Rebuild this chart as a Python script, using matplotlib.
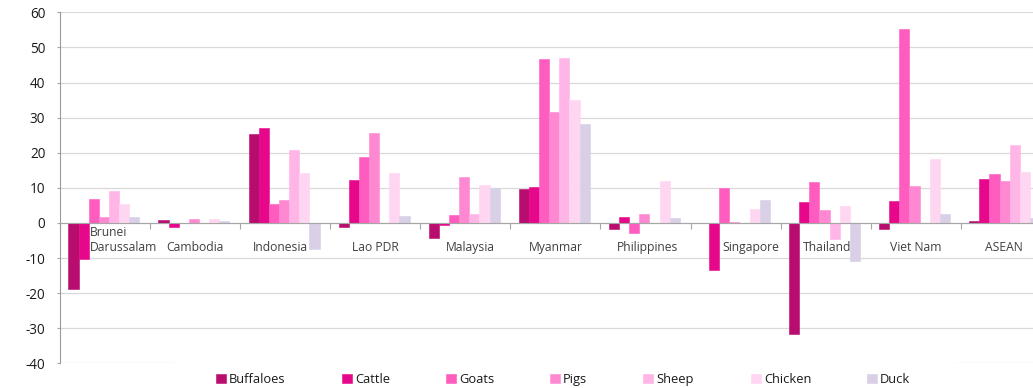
import matplotlib
matplotlib.use('Agg')
import matplotlib.pyplot as plt
import numpy as np
from matplotlib.patches import Rectangle

# ---- data ----
countries = ['Brunei\nDarussalam', 'Cambodia', 'Indonesia', 'Lao PDR', 'Malaysia',
             'Myanmar', 'Philippines', 'Singapore', 'Thailand', 'Viet Nam', 'ASEAN']
series_names = ['Buffaloes', 'Cattle', 'Goats', 'Pigs', 'Sheep', 'Chicken', 'Duck']
buffaloes = [-18.8, 0.9, 25.2, -1.2, -4.2, 9.7, -1.8, 0.0, -31.6, -1.8, 0.5]
cattle    = [-10.4, -1.1, 26.9, 12.1, -0.6, 10.2, 1.8, -13.5, 5.9, 6.2, 12.6]
goats     = [6.9, 0.0, 5.5, 18.7, 2.3, 46.8, -2.8, 9.9, 11.6, 55.1, 13.8]
pigs      = [1.6, 1.0, 6.4, 25.6, 13.0, 31.7, 2.6, 0.3, 3.8, 10.5, 11.9]
sheep     = [9.1, 0.0, 20.9, 0.0, 2.4, 47.1, 0.0, 0.0, -4.5, 0.0, 22.1]
chicken   = [5.3, 1.2, 14.3, 14.3, 10.7, 35.1, 11.8, 3.9, 4.7, 18.3, 14.4]
duck      = [1.7, 0.4, -7.5, 2.1, 10.0, 28.3, 1.4, 6.6, -10.8, 2.6, 1.3]
yticks = list(range(-40, 61, 10))

# ---- style ----
colors = ['#B80C6E', '#E6078A', '#FF5CC0', '#FF88D2', '#FFB5E6', '#FFD6F2', '#D9CFE6']
label_dx_px = [19, 0, -5, 0, 5, 0, 2, 15, 1, 0, -2]
legend_x_px = [216, 342, 446, 550, 643, 751, 867]
FONT = 'Open Sans'
plt.rcParams['font.family'] = [FONT, 'DejaVu Sans']
plt.rcParams['axes.unicode_minus'] = False

W, H = 1033, 388
fig = plt.figure(figsize=(W / 100, H / 100), dpi=100)
ax = fig.add_axes([60 / W, (H - 363.3) / H, 990.8 / W, (363.3 - 12.3) / H])

x = np.arange(len(countries))
n = len(series_names)
w = 0.1126
shift = -0.013
data = [buffaloes, cattle, goats, pigs, sheep, chicken, duck]
containers = []
for i, (vals, c, name) in enumerate(zip(data, colors, series_names)):
    pos = x + (i - (n - 1) / 2) * w + shift
    bc = ax.bar(pos, vals, width=w, color=c, edgecolor=c, linewidth=0.4,
                label=name, zorder=2)
    containers.append(bc)

ax.set_xlim(-0.5, len(countries) - 0.5)
ax.set_ylim(yticks[0], yticks[-1])
ax.set_yticks(yticks)
ax.set_yticklabels([str(v) for v in yticks], fontsize=9.8, color='#1a1a1a')
ax.yaxis.grid(True, color='#D9D9D9', linewidth=0.9)
ax.set_axisbelow(True)
ax.tick_params(axis='y', length=2.5, color='#A6A6A6', pad=8)

for s in ['top', 'right']:
    ax.spines[s].set_visible(False)
ax.spines['left'].set_color('#9A9A9A')
ax.spines['bottom'].set_position(('data', 0))
ax.spines['bottom'].set_color('#A6A6A6')
ax.spines['bottom'].set_zorder(3)
ax.set_xticks(np.arange(-0.5, len(countries), 1.0))
ax.set_xticklabels([])
ax.tick_params(axis='x', length=4.3, color='#A6A6A6', direction='out')

for i, lab in enumerate(countries):
    ax.annotate(lab, xy=(x[i], 0), xycoords='data',
                xytext=(label_dx_px[i] * 0.72, -22.5), textcoords='offset points',
                ha='center', va='bottom', multialignment='left',
                fontsize=8.7, color='#404040', zorder=4)

# white box behind legend (covers bottom gridline)
fig.patches.append(Rectangle((175 / W, 0), (956 - 175) / W, (H - 362) / H,
                             transform=fig.transFigure, facecolor='white',
                             edgecolor='none', zorder=3))

for i, (bc, name) in enumerate(zip(containers, series_names)):
    fig.legend([bc], [name], loc='center left',
               bbox_to_anchor=(legend_x_px[i] / W, 1 - 379.5 / H),
               frameon=False, borderpad=0, borderaxespad=0,
               handlelength=0.75, handleheight=0.75, handletextpad=0.25,
               fontsize=9.3, labelcolor='#1a1a1a')

fig.savefig('out.png', dpi=100)
